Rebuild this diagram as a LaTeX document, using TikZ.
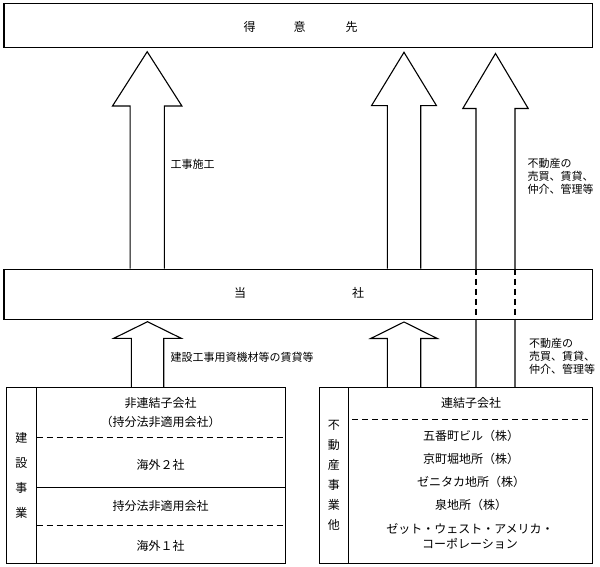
\documentclass[tikz,border=0pt]{standalone}
\usepackage{fontspec}
\setmainfont{Noto Sans CJK JP}
\usetikzlibrary{calc}

% block arrow: [opts]{tip}{foot anchor}{head length}{head half width}{shaft half width}
\newcommand{\blockarrow}[6][]{%
  \draw[line width=1.1pt, #1] ($(#2 |- #3)+(-#6,0)$) -- ($(#2)+(-#6,-#4)$) -- ($(#2)+(-#5,-#4)$) -- (#2) -- ($(#2)+(#5,-#4)$) -- ($(#2)+(#6,-#4)$) -- ($(#2 |- #3)+(#6,0)$);}

\begin{document}
\begin{tikzpicture}
[every node/.style={inner sep=0pt, font=\fontsize{12pt}{16pt}\selectfont},
 box/.style={draw, fill=white, line width=1.1pt},
 rowdash/.style={line width=1.1pt, dash pattern=on 6pt off 4pt},
 note/.style={anchor=west, align=left, font=\fontsize{11pt}{13pt}\selectfont}]
\useasboundingbox (0pt,0pt) rectangle (600pt,-567pt);
\node (client) [box, minimum width=588.7pt, minimum height=43.3pt] at (298.3pt, -25.6pt) {};
\node (clienttext) at (300.5pt, -26.5pt) {得\hspace{38pt}意\hspace{40pt}先};
\coordinate (tipA) at (147.2pt, -51.7pt);
\coordinate (tipB) at (404.0pt, -52.3pt);
\coordinate (tipC) at (495.5pt, -53.5pt);
\coordinate (tipD) at (147.5pt, -321.7pt);
\coordinate (tipE) at (404.0pt, -322.0pt);
\node (build) [box, minimum width=278.3pt, minimum height=176pt] at (145.9pt, -475.3pt) {};
\node (buildtag) [box, minimum width=29.3pt, minimum height=176pt, anchor=north west] at (build.north west) {};
\node (estate) [box, minimum width=273.4pt, minimum height=176pt] at (456.0pt, -475.3pt) {};
\node (estatetag) [box, minimum width=29pt, minimum height=176pt, anchor=north west] at (estate.north west) {};
% long arrow first, the company box covers its middle
\blockarrow{tipC}{estate.north}{55pt}{32.7pt}{19.5pt}
\node (company) [box, minimum width=588.7pt, minimum height=50.3pt] at (298.3pt, -294.2pt) {};
\node (companytext) at (299.0pt, -292.5pt) {当\hspace{106pt}社};
\draw [rowdash] ($(tipC |- company.north)+(-19.5pt,0)$) -- ($(tipC |- company.south)+(-19.5pt,0)$);
\draw [rowdash] ($(tipC |- company.north)+(19.5pt,0)$) -- ($(tipC |- company.south)+(19.5pt,0)$);
% arrows
\blockarrow{tipA}{company.north}{54.3pt}{34.7pt}{17.1pt}
\blockarrow{tipB}{company.north}{53.4pt}{32.5pt}{16.7pt}
\blockarrow{tipD}{build.north}{16.6pt}{33.7pt}{16.2pt}
\blockarrow{tipE}{estate.north}{16.5pt}{33.3pt}{16.7pt}
% labels
\node (worklabel) [note] at (170.5pt, -164pt) {工事施工};
\node (salelabel) [note] at (527.5pt, -176pt) {不動産の\\売買、賃貸、\\仲介、管理等};
\node (rentlabel) [note] at (170.5pt, -357.3pt) {建設工事用資機材等の賃貸等};
\node (salelabel2) [note] at (529pt, -356pt) {不動産の\\売買、賃貸、\\仲介、管理等};
% construction block
\node (buildname) [align=center, font=\fontsize{12pt}{25pt}\selectfont] at (buildtag.center) {建\\設\\事\\業};
\coordinate (bsplit1) at (0pt, -437.7pt);
\coordinate (bsplit2) at (0pt, -487.7pt);
\coordinate (bsplit3) at (0pt, -525.7pt);
\draw [rowdash] (buildtag.east |- bsplit1) -- (build.east |- bsplit1);
\draw [line width=1.1pt] (buildtag.east |- bsplit2) -- (build.east |- bsplit2);
\draw [rowdash] (buildtag.east |- bsplit3) -- (build.east |- bsplit3);
\node (nonconsol) [align=center, font=\fontsize{12pt}{18.4pt}\selectfont] at (160.5pt, -412.5pt) {非連結子会社\\（持分法非適用会社）};
\node (overseas2) at (160.5pt, -464.5pt) {海外２社};
\node (noneq) at (160.5pt, -506.3pt) {持分法非適用会社};
\node (overseas1) at (160.5pt, -546.2pt) {海外１社};
% real estate block
\node (estatename) [align=center, font=\fontsize{12pt}{20pt}\selectfont] at (estatetag.center) {不\\動\\産\\事\\業\\他};
\coordinate (esplit) at (0pt, -419.3pt);
\draw [rowdash] ($(estatetag.east |- esplit)+(3.4pt,0)$) -- (estate.east |- esplit);
\node (consol) at (471pt, -403.3pt) {連結子会社};
\node (gobancho) at (471pt, -436pt) {五番町ビル（株）};
\node (kyomachi) at (471pt, -459.3pt) {京町堀地所（株）};
\node (zenitaka) at (471pt, -481.7pt) {ゼニタカ地所（株）};
\node (izumi) at (471pt, -505pt) {泉地所（株）};
\node (zwa) [align=center, font=\fontsize{12pt}{14.7pt}\selectfont] at (470pt, -536.6pt) {ゼット・ウェスト・アメリカ・\\コーポレーション};
\end{tikzpicture}
\end{document}
